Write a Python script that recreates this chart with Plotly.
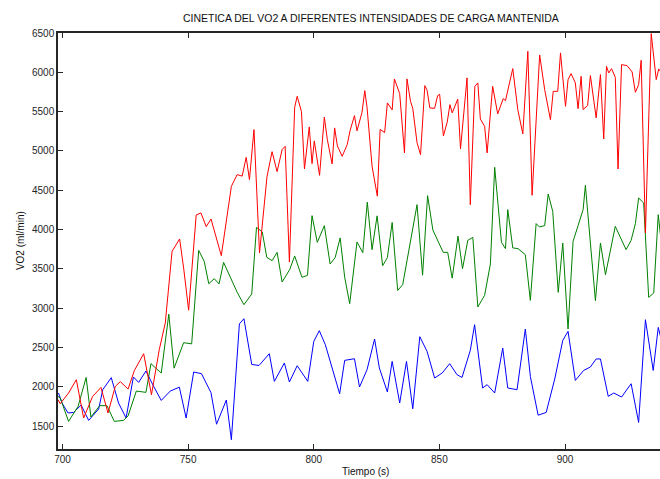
import plotly.graph_objects as go

# ---- data ----
tiempo_azul = [698.4, 699.8, 702.2, 704.4, 707.4, 710.4, 714.4, 716.0, 719.4, 722.3,
               725.3, 728.2, 730.3, 733.2, 736.2, 739.3, 742.9, 746.5, 749.2, 752.2,
               755.3, 759.1, 761.3, 765.2, 767.2, 770.4, 772.2, 775.3, 778.2, 782.3,
               784.3, 788.3, 790.3, 793.4, 797.6, 800.0, 802.2, 804.6, 810.3, 812.3,
               816.2, 818.2, 821.2, 824.2, 826.1, 829.3, 831.2, 834.2, 836.9, 839.4,
               842.2, 845.1, 848.1, 851.1, 854.1, 857.0, 859.0, 862.3, 864.0, 867.2,
               869.0, 872.0, 875.2, 877.2, 880.9, 884.2, 886.2, 889.3, 892.5, 895.9,
               899.1, 901.2, 904.1, 907.4, 910.1, 912.4, 914.1, 917.2, 919.4, 922.5,
               926.3, 929.3, 932.0, 935.1, 937.1, 939.5]
vo2_azul = [1922, 1795, 1668, 1675, 1769, 1574, 1719, 1964, 2117, 1795,
            1604, 2126, 2057, 2202, 2010, 1828, 1947, 1996, 1604, 2189,
            2168, 1926, 1525, 1833, 1328, 2801, 2867, 2285, 2272, 2422,
            2070, 2304, 2062, 2269, 2070, 2578, 2715, 2536, 1913, 2337,
            2358, 1998, 2218, 2609, 2240, 1935, 2324, 1795, 2324, 1722,
            2638, 2451, 2113, 2176, 2295, 2155, 2120, 2464, 2791, 1986,
            2028, 1922, 2494, 1986, 1964, 2736, 2133, 1640, 1675, 2100,
            2591, 2706, 2082, 2209, 2253, 2355, 2355, 1879, 1922, 1871,
            2040, 1548, 2854, 2209, 2756, 2450]

tiempo_verde = [698.2, 699.1, 702.4, 706.2, 709.4, 711.3, 714.8, 717.7, 720.6, 724.3,
                726.1, 729.4, 733.2, 735.2, 739.3, 742.3, 744.4, 748.2, 751.4, 754.2,
                756.4, 758.2, 760.4, 762.3, 764.1, 769.5, 772.2, 775.3, 777.2, 779.5,
                781.3, 783.4, 785.4, 787.4, 790.4, 792.4, 795.3, 797.5, 799.3, 801.4,
                804.2, 806.5, 808.5, 810.5, 812.3, 814.3, 817.2, 819.5, 821.3, 823.2,
                825.2, 827.4, 829.3, 831.2, 833.4, 835.4, 841.1, 843.3, 845.3, 847.4,
                851.5, 853.3, 855.1, 857.4, 859.2, 861.3, 863.3, 865.3, 868.0, 870.3,
                872.0, 874.7, 876.3, 877.2, 879.2, 881.3, 884.2, 886.2, 888.5, 889.8,
                891.9, 893.3, 895.1, 897.3, 899.1, 901.2, 903.2, 907.2, 908.1, 912.1,
                914.1, 916.1, 920.0, 924.3, 926.3, 928.0, 929.3, 931.3, 933.3, 935.3,
                937.1, 938.4]
vo2_verde = [1879, 1858, 1561, 1752, 2120, 1617, 1761, 1761, 1561, 1574,
             1633, 1947, 1930, 2295, 2176, 2924, 2238, 2562, 2547, 3736,
             3596, 3312, 3376, 3309, 3583, 3204, 3045, 3181, 4028, 3970,
             3647, 3605, 3711, 3334, 3490, 3665, 3393, 3418, 4177, 3838,
             4050, 3563, 3643, 3894, 3395, 3058, 3843, 3707, 4349, 3745,
             4175, 3541, 3643, 4091, 3226, 3300, 4317, 3420, 4432, 3995,
             3711, 3711, 3382, 3917, 3503, 3863, 3901, 3016, 3164, 3563,
             4792, 3838, 3758, 4254, 3767, 3758, 3681, 3100, 4076, 4034,
             4050, 4453, 4232, 3202, 3830, 2736, 3850, 4254, 4563, 3096,
             3830, 3427, 4041, 3745, 3863, 4076, 4402, 4339, 3138, 3194,
             4190, 3808]

tiempo_rojo = [698.2, 699.1, 702.4, 705.5, 708.4, 712.0, 715.3, 718.1, 721.0, 723.0,
               726.1, 728.6, 732.3, 735.4, 738.5, 740.9, 743.6, 746.6, 748.2, 750.2,
               753.2, 755.1, 757.2, 759.1, 763.2, 767.2, 769.5, 771.5, 773.1, 774.4,
               776.2, 778.4, 781.4, 783.4, 785.4, 787.4, 788.6, 790.3, 792.4, 793.4,
               795.1, 796.3, 798.2, 799.3, 800.2, 802.3, 804.2, 805.4, 807.3, 808.3,
               809.4, 811.3, 813.3, 814.5, 816.2, 817.2, 819.2, 820.3, 821.2, 823.2,
               825.3, 826.4, 828.2, 829.3, 831.2, 832.1, 834.2, 836.1, 837.1, 838.5,
               839.4, 841.1, 842.5, 844.2, 845.1, 846.2, 848.1, 849.3, 850.1, 851.6,
               853.1, 854.2, 855.1, 857.3, 858.4, 861.0, 862.3, 864.1, 865.3, 866.3,
               868.0, 869.0, 871.2, 873.2, 875.4, 876.3, 879.2, 881.2, 883.2, 885.2,
               886.9, 889.9, 891.9, 894.2, 895.3, 897.1, 898.2, 900.2, 901.2, 902.4,
               904.1, 905.2, 906.4, 907.2, 909.0, 910.1, 912.4, 914.1, 915.4, 916.5,
               917.4, 918.5, 920.0, 921.1, 922.5, 924.7, 926.7, 928.0, 929.3, 930.3,
               932.0, 934.3, 936.3, 937.3, 938.8]
vo2_rojo = [1837, 1786, 1922, 2091, 1604, 1879, 1993, 1668, 2006, 2066,
            1973, 2209, 2422, 1900, 2473, 2812, 3723, 3881, 3512, 2975,
            4186, 4212, 4037, 4135, 3669, 4550, 4699, 4680, 4919, 4635,
            5271, 3703, 4677, 4991, 4737, 5017, 5059, 3588, 5557, 5695,
            5500, 4771, 5306, 4839, 5128, 4690, 5430, 5144, 4835, 5293,
            5064, 4932, 5080, 5265, 5449, 5256, 5491, 5767, 5554, 4804,
            4425, 5275, 5233, 5611, 5522, 5916, 5729, 4975, 5916, 5631,
            5542, 5106, 4953, 5831, 5771, 5547, 5542, 5704, 5720, 5191,
            5367, 5589, 5484, 5659, 5026, 5929, 4317, 5822, 5865, 5407,
            5313, 4975, 5822, 5471, 5666, 5640, 6047, 5526, 5217, 6267,
            4436, 6221, 5780, 5398, 5758, 5758, 6247, 5568, 5907, 5984,
            5865, 5538, 5949, 5526, 5577, 5958, 5420, 5971, 5153, 6076,
            5992, 6047, 5937, 4771, 6098, 6085, 6005, 5746, 5844, 6153,
            3957, 6492, 5907, 6043, 5971]

x_ticks = [700, 750, 800, 850, 900]
y_ticks = [1500, 2000, 2500, 3000, 3500, 4000, 4500, 5000, 5500, 6000, 6500]

titulo = "CINETICA DEL VO2 A DIFERENTES INTENSIDADES DE CARGA MANTENIDA"
x_label = "Tiempo (s)"
y_label = "VO2 (ml/min)"

FONT = "Liberation Sans, Arial, Helvetica, sans-serif"
INK = "#262626"

fig = go.Figure()
for t, v, c in [(tiempo_azul, vo2_azul, "#0000ff"),
                (tiempo_verde, vo2_verde, "#008000"),
                (tiempo_rojo, vo2_rojo, "#ff0000")]:
    fig.add_trace(go.Scatter(x=t, y=v, mode="lines",
                             line=dict(color=c, width=1),
                             showlegend=False, hoverinfo="skip"))

fig.update_layout(
    width=660, height=479,
    margin=dict(l=58, r=0, t=33, b=30),
    paper_bgcolor="white", plot_bgcolor="white",
    font=dict(family=FONT, size=10, color=INK),
    title=dict(text=titulo, x=0.562, xref="container", xanchor="center",
               y=1 - 18.5 / 479, yref="container", yanchor="middle",
               font=dict(family=FONT, size=10.5, color="#111111")),
    xaxis=dict(range=[698.2, 937.8], tickmode="array", tickvals=x_ticks,
               ticktext=[str(v) for v in x_ticks],
               ticks="inside", ticklen=5, tickwidth=1, tickcolor=INK,
               showline=True, linecolor=INK, linewidth=1.5, mirror="ticks",
               showgrid=False, zeroline=False,
               tickfont=dict(family=FONT, size=10, color=INK)),
    yaxis=dict(range=[1210, 6500], tickmode="array", tickvals=y_ticks,
               ticktext=[str(v) for v in y_ticks],
               ticks="inside", ticklen=5, tickwidth=1, tickcolor=INK,
               showline=True, linecolor=INK, linewidth=1.5, mirror=False,
               showgrid=False, zeroline=False,
               tickfont=dict(family=FONT, size=10, color=INK)),
    annotations=[
        dict(text=x_label, xref="paper", yref="paper", x=0.51, y=-0.055,
             xanchor="center", yanchor="middle", showarrow=False,
             font=dict(family=FONT, size=10, color="#111111")),
        dict(text=y_label, xref="paper", yref="paper", x=-0.063, y=0.5,
             xanchor="center", yanchor="middle", showarrow=False, textangle=-90,
             font=dict(family=FONT, size=10, color="#111111")),
    ],
)

fig.write_html("out.html")
